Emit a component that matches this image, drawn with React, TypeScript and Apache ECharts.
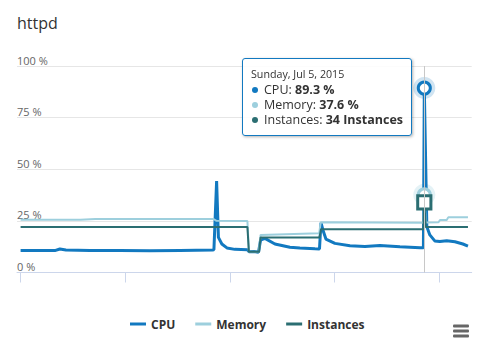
import React, { useEffect, useRef } from "react";
import * as echarts from "echarts";

const TITLE = "httpd";
const START_UTC = Date.UTC(2015, 5, 8); // Monday, Jun 8, 2015
const DAY_MS = 86400000;
const HOVER_DAY = 27;
const xTickDays = [0, 7, 14, 21, 28];
const seriesNames = ["CPU", "Memory", "Instances"];

// CPU (%), x = days since Jun 8, 2015
const cpuDays = [0, 1.29, 2.29, 2.63, 3.03, 4.64, 6.64, 8.65, 10.65, 12.84, 12.93, 13.11, 13.23, 13.46, 13.8, 14.33, 15.17, 15.27, 15.61, 15.91, 16.05, 16.34, 17.01, 18.01, 18.68, 19.69, 19.99, 20.09, 20.22, 20.42, 21.02, 22.03, 23.03, 24.03, 25.37, 26.72, 26.94, 27, 27.17, 27.37, 27.7, 28.04, 28.5, 29.05, 29.58, 29.92];
const cpuValues = [10.6, 10.7, 10.6, 11.4, 10.9, 10.7, 10.6, 10.5, 10.7, 10.9, 11.0, 44.3, 17.0, 13.8, 11.9, 11.2, 11.0, 10.1, 10.2, 9.8, 15.7, 16.5, 13.8, 12.2, 11.9, 11.5, 11.4, 24.1, 20.6, 16.2, 14.1, 13.0, 12.6, 13.1, 12.5, 12.0, 12.0, 89.3, 22.2, 18.2, 15.3, 15.0, 15.4, 14.9, 13.8, 12.8];

// Memory (%)
const memDays = [0, 4.0, 5.0, 12.9, 13.1, 15.17, 15.27, 15.93, 16.05, 19.97, 20.07, 26.94, 27, 27.1, 27.95, 28.05, 28.5, 28.6, 29.92];
const memValues = [25.5, 25.6, 25.9, 25.9, 25.0, 24.9, 10.0, 10.0, 18.2, 19.0, 24.3, 24.1, 37.6, 24.2, 24.3, 25.4, 25.4, 26.7, 26.7];

// Instances (count)
const instDays = [0, 15.17, 15.27, 15.95, 16.05, 19.99, 20.09, 26.94, 27, 27.1, 29.92];
const instValues = [22, 22, 10, 10, 17, 17, 21, 21, 34, 22, 22];

const COLORS: Record<string, string> = { CPU: "#1279c0", Memory: "#9dcfdd", Instances: "#2b6e72" };
const FONT = "'Open Sans', 'Noto Sans', sans-serif";
const WEEKDAYS = ["Sunday", "Monday", "Tuesday", "Wednesday", "Thursday", "Friday", "Saturday"];
const MONTHS = ["Jan", "Feb", "Mar", "Apr", "May", "Jun", "Jul", "Aug", "Sep", "Oct", "Nov", "Dec"];

function buildData(days: number[], values: number[], hoverStyle: any) {
  return days.map((d, i) =>
    d === HOVER_DAY ? { value: [d, values[i]], ...hoverStyle } : { value: [d, values[i]] }
  );
}

function fmtDate(day: number) {
  const dt = new Date(START_UTC + day * DAY_MS);
  return `${WEEKDAYS[dt.getUTCDay()]}, ${MONTHS[dt.getUTCMonth()]} ${dt.getUTCDate()}, ${dt.getUTCFullYear()}`;
}

export default function App() {
  const ref = useRef<HTMLDivElement>(null);

  useEffect(() => {
    document.body.style.margin = "0";
    if (!ref.current) return;
    const chart = echarts.init(ref.current, undefined, { renderer: "svg" });

    const cpuIdx = cpuDays.indexOf(HOVER_DAY);
    const memIdx = memDays.indexOf(HOVER_DAY);

    const lineCommon = {
      type: "line",
      symbol: "none",
      showSymbol: true,
      emphasis: { disabled: true },
      z: 3,
    };

    chart.setOption({
      animation: false,
      title: {
        text: TITLE,
        left: 17,
        top: 15,
        padding: 0,
        textStyle: { fontFamily: FONT, fontSize: 16, fontWeight: "normal", color: "#333" },
      },
      grid: { left: 17, right: 9.3, top: 66, bottom: 71.5 },
      legend: {
        data: seriesNames,
        left: 130,
        top: 318,
        padding: 0,
        icon: "rect",
        itemWidth: 16,
        itemHeight: 3,
        itemGap: 20,
        textStyle: { fontFamily: FONT, fontSize: 12, fontWeight: "bold", color: "#333" },
      },
      tooltip: {
        trigger: "axis",
        triggerOn: "none",
        alwaysShowContent: true,
        transitionDuration: 0,
        backgroundColor: "rgba(255,255,255,0.88)",
        borderColor: COLORS.CPU,
        borderWidth: 1,
        padding: [8, 8, 8, 8],
        extraCssText: "border-radius:3px; box-shadow:1px 1px 3px rgba(0,0,0,0.3);",
        textStyle: { fontFamily: FONT, fontSize: 12, color: "#333" },
        position: () => [242, 58],
        axisPointer: {
          type: "line",
          lineStyle: { color: "#c8c8c8", width: 1, type: "solid" },
          label: { show: false },
        },
        formatter: (params: any) => {
          const list = (Array.isArray(params) ? params : [params]).filter((p: any) =>
            seriesNames.includes(p.seriesName)
          );
          if (!list.length) return "";
          const day = list[0].value[0];
          let html = `<div style="font-size:10.7px;line-height:15px;color:#333;">${fmtDate(day)}</div>`;
          list.forEach((p: any) => {
            const v = p.value[1];
            const txt = p.seriesName === "Instances" ? `${Math.round(v)} Instances` : `${v.toFixed(1)} %`;
            html += `<div style="font-size:12.5px;line-height:15px;white-space:nowrap;"><span style="display:inline-block;width:6px;height:6px;border-radius:3px;background:${COLORS[p.seriesName]};margin:0 6px 0 1px;vertical-align:1px;"></span>${p.seriesName}: <b>${txt}</b></div>`;
          });
          return html;
        },
      },
      xAxis: {
        type: "value",
        min: -0.24,
        max: 30.17,
        axisLine: { show: true, lineStyle: { color: "#ccd6eb", width: 1 } },
        axisTick: { show: true, length: 10, customValues: xTickDays, lineStyle: { color: "#ccd6eb" } },
        axisLabel: { show: false },
        splitLine: { show: false },
      },
      yAxis: {
        type: "value",
        min: 0,
        max: 100,
        interval: 25,
        axisLine: { show: false },
        axisTick: { show: false },
        splitLine: { show: true, lineStyle: { color: "#e6e6e6", width: 1 } },
        axisLabel: {
          inside: true,
          margin: 0,
          verticalAlign: "bottom",
          lineHeight: 12,
          formatter: (v: number) => `${v} %`,
          fontFamily: FONT,
          fontSize: 11,
          color: "#666",
        },
      },
      series: [
        {
          name: "_halo",
          type: "scatter",
          silent: true,
          z: 2,
          emphasis: { disabled: true },
          symbolSize: 22,
          data: [
            { value: [HOVER_DAY, cpuValues[cpuIdx]], itemStyle: { color: "rgba(18,121,192,0.25)" } },
            { value: [HOVER_DAY, memValues[memIdx]], itemStyle: { color: "rgba(157,207,221,0.35)" } },
          ],
        },
        {
          ...lineCommon,
          name: "CPU",
          color: COLORS.CPU,
          lineStyle: { color: COLORS.CPU, width: 3 },
          data: buildData(cpuDays, cpuValues, {
            symbol: "circle",
            symbolSize: 11,
            itemStyle: { color: "#fff", borderColor: COLORS.CPU, borderWidth: 3 },
          }),
        },
        {
          ...lineCommon,
          name: "Memory",
          color: COLORS.Memory,
          lineStyle: { color: COLORS.Memory, width: 2 },
          data: buildData(memDays, memValues, {
            symbol: "circle",
            symbolSize: 11,
            itemStyle: { color: "#fff", borderColor: COLORS.Memory, borderWidth: 3 },
          }),
        },
        {
          ...lineCommon,
          name: "Instances",
          color: COLORS.Instances,
          lineStyle: { color: COLORS.Instances, width: 2 },
          data: buildData(instDays, instValues, {
            symbol: "rect",
            symbolSize: 12,
            itemStyle: { color: "#fff", borderColor: COLORS.Instances, borderWidth: 3 },
          }),
        },
      ],
      graphic: [
        { type: "rect", left: 453, top: 324.5, shape: { width: 16, height: 3, r: 1 }, style: { fill: "#666" } },
        { type: "rect", left: 453, top: 329.5, shape: { width: 16, height: 3, r: 1 }, style: { fill: "#666" } },
        { type: "rect", left: 453, top: 334.5, shape: { width: 16, height: 3, r: 1 }, style: { fill: "#666" } },
      ],
    });

    chart.dispatchAction({ type: "showTip", seriesIndex: 1, dataIndex: cpuIdx });

    return () => chart.dispose();
  }, []);

  return (
    <div
      ref={ref}
      style={{ position: "absolute", left: 0, top: 0, width: 481, height: 344 }}
    />
  );
}
